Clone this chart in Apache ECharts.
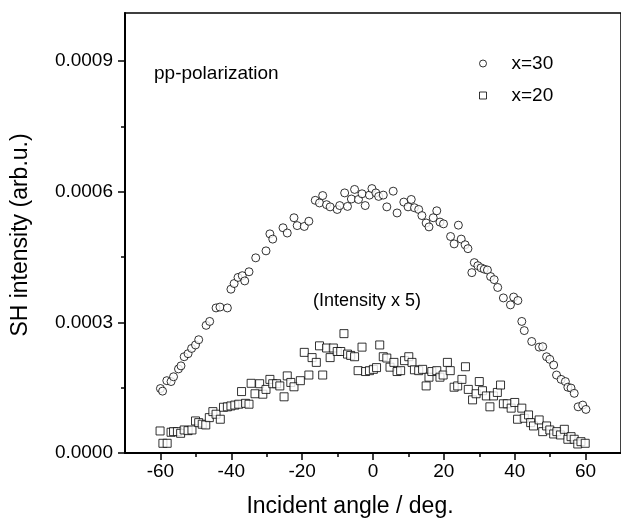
<!DOCTYPE html>
<html>
<head>
<meta charset="utf-8">
<script src="https://cdn.jsdelivr.net/npm/echarts@6/dist/echarts.min.js"></script>
<style>
  html, body { margin: 0; padding: 0; background: #fff; }
  #chart { width: 621px; height: 520px; }
</style>
</head>
<body>
<div id="chart"></div>
<script>
// tick positions
const xTicks = [-60, -40, -20, 0, 20, 40, 60]
const xMinorTicks = [-50, -30, -10, 10, 30, 50]
const yTicks = [0, 0.0003, 0.0006, 0.0009]
const yMinorTicks = [0.00015, 0.00045, 0.00075]

// x=30 (circles)
const angles30 = [-60.0, -59.4, -58.2, -57.0, -56.3, -54.9, -54.2, -53.3, -52.2, -51.2, -50.1, -49.2, -47.1, -46.1, -44.3, -43.2, -41.1, -40.1, -39.2, -38.1, -36.9, -36.2, -35.0, -33.1, -30.2, -29.1, -28.3, -25.4, -24.2, -22.3, -21.4, -19.4, -18.1, -16.3, -15.1, -14.2, -13.1, -12.1, -10.1, -9.4, -8.0, -7.2, -6.1, -5.2, -4.1, -3.1, -2.2, -1.0, -0.3, 0.8, 1.6, 2.9, 3.9, 5.7, 6.8, 8.7, 9.9, 10.8, 11.7, 12.9, 13.8, 15.0, 15.8, 17.0, 18.0, 18.9, 19.9, 21.9, 22.9, 24.1, 24.9, 26.0, 26.8, 27.9, 28.6, 29.6, 30.5, 31.4, 32.3, 33.2, 34.2, 35.2, 36.8, 38.8, 39.7, 40.9, 42.0, 42.7, 44.8, 46.9, 47.9, 49.0, 49.9, 51.0, 51.8, 53.1, 54.3, 55.0, 55.9, 56.8, 57.9, 59.2, 60.1]
const values30 = [0.000148, 0.000142, 0.000166, 0.000164, 0.000175, 0.000193, 0.000200, 0.000221, 0.000228, 0.000240, 0.000248, 0.000260, 0.000293, 0.000302, 0.000333, 0.000335, 0.000333, 0.000376, 0.000389, 0.000403, 0.000407, 0.000395, 0.000416, 0.000448, 0.000464, 0.000503, 0.000491, 0.000517, 0.000505, 0.000540, 0.000522, 0.000520, 0.000532, 0.000580, 0.000574, 0.000591, 0.000570, 0.000565, 0.000559, 0.000568, 0.000597, 0.000566, 0.000583, 0.000605, 0.000582, 0.000595, 0.000568, 0.000592, 0.000607, 0.000597, 0.000589, 0.000592, 0.000565, 0.000601, 0.000551, 0.000576, 0.000565, 0.000582, 0.000563, 0.000559, 0.000545, 0.000528, 0.000519, 0.000540, 0.000556, 0.000530, 0.000526, 0.000497, 0.000480, 0.000523, 0.000491, 0.000478, 0.000469, 0.000414, 0.000437, 0.000430, 0.000425, 0.000422, 0.000420, 0.000405, 0.000398, 0.000380, 0.000356, 0.000340, 0.000358, 0.000350, 0.000302, 0.000281, 0.000256, 0.000243, 0.000244, 0.000221, 0.000215, 0.000202, 0.000179, 0.000169, 0.000164, 0.000151, 0.000149, 0.000137, 0.000106, 0.000110, 0.000100]

// x=20 (squares, intensity x 5)
const angles20 = [-60.1, -59.3, -58.1, -57.0, -56.3, -55.2, -54.3, -53.3, -52.2, -51.1, -50.1, -49.2, -48.2, -47.2, -46.2, -45.2, -44.3, -43.1, -42.2, -41.1, -40.1, -39.0, -37.9, -37.1, -36.0, -35.0, -34.4, -33.3, -32.0, -31.1, -30.2, -29.1, -28.3, -27.2, -26.3, -25.1, -24.2, -23.2, -22.3, -20.5, -19.4, -18.1, -17.2, -16.0, -15.1, -14.2, -13.1, -12.1, -11.2, -10.1, -9.1, -8.2, -7.2, -6.3, -5.2, -4.2, -3.1, -2.1, -1.0, 0.1, 1.0, 1.9, 2.9, 3.9, 4.8, 5.9, 6.8, 7.8, 8.9, 10.1, 11.0, 11.7, 12.9, 14.0, 15.0, 15.8, 16.6, 18.0, 18.9, 19.8, 21.0, 21.8, 22.9, 23.9, 25.1, 26.1, 26.9, 28.1, 29.1, 30.0, 30.9, 32.0, 33.0, 34.0, 35.1, 36.0, 36.8, 37.9, 39.0, 40.0, 40.8, 42.0, 42.7, 43.9, 44.5, 45.3, 46.9, 47.9, 49.0, 49.9, 51.0, 51.9, 52.9, 54.0, 55.0, 55.9, 56.8, 57.8, 58.7, 59.9]
const values20 = [0.0000506, 0.0000223, 0.0000223, 0.0000476, 0.0000490, 0.0000490, 0.0000452, 0.0000529, 0.0000513, 0.0000529, 0.0000736, 0.0000697, 0.0000660, 0.0000644, 0.0000812, 0.0000950, 0.0000890, 0.0000775, 0.000105, 0.000106, 0.000108, 0.000110, 0.000112, 0.000141, 0.000114, 0.000112, 0.000160, 0.000136, 0.000159, 0.000135, 0.000146, 0.000169, 0.000159, 0.000159, 0.000154, 0.000129, 0.000177, 0.000162, 0.000152, 0.000166, 0.000231, 0.000179, 0.000219, 0.000208, 0.000246, 0.000179, 0.000241, 0.000219, 0.000241, 0.000233, 0.000233, 0.000274, 0.000227, 0.000224, 0.000221, 0.000189, 0.000243, 0.000187, 0.000189, 0.000192, 0.000196, 0.000248, 0.000221, 0.000218, 0.000197, 0.000208, 0.000187, 0.000189, 0.000212, 0.000221, 0.000208, 0.000191, 0.000189, 0.000192, 0.000154, 0.000174, 0.000187, 0.000189, 0.000174, 0.000179, 0.000208, 0.000189, 0.000151, 0.000154, 0.000169, 0.000198, 0.000146, 0.000122, 0.000136, 0.000164, 0.000143, 0.000131, 0.000106, 0.000131, 0.000139, 0.000156, 0.000113, 0.000113, 0.000103, 0.000116, 0.0000775, 0.000103, 0.0000798, 0.0000874, 0.0000697, 0.0000621, 0.0000759, 0.0000490, 0.0000621, 0.0000529, 0.0000437, 0.0000490, 0.0000414, 0.0000544, 0.0000315, 0.0000375, 0.0000315, 0.0000207, 0.0000260, 0.0000223]

const FONT = "Liberation Sans, Arial, sans-serif"
const chart = echarts.init(document.getElementById("chart"), null, { renderer: "canvas" })

const markStyle = { color: "#fff", borderColor: "#000", borderWidth: 1 }
const option = {
  animation: false,
  backgroundColor: "#fff",
  textStyle: { fontFamily: FONT },
  grid: { left: 125, top: 13, right: -8, bottom: 67, show: true, borderColor: "#000", borderWidth: 1.5, backgroundColor: "transparent" },
  legend: {
    orient: "vertical",
    left: 479,
    top: 54,
    padding: 0,
    itemWidth: 7,
    itemHeight: 7,
    itemGap: 13,
    data: [
      { name: "x=30", icon: "circle" },
      { name: "x=20", icon: "rect" }
    ],
    itemStyle: { color: "#fff", borderColor: "#000", borderWidth: 1 },
    textStyle: { fontSize: 19, color: "#000", fontFamily: FONT, padding: [0, 0, 0, 20] }
  },
  xAxis: [
    {
      type: "value", min: -70, max: 70, position: "bottom",
      axisLine: { show: true, onZero: false, lineStyle: { color: "#000", width: 2 } },
      axisTick: { show: true, customValues: xTicks, length: 7, lineStyle: { color: "#000", width: 1.5 } },
      axisLabel: { customValues: xTicks, color: "#000", fontSize: 19, margin: 9, fontFamily: FONT },
      splitLine: { show: false }
    },
    {
      type: "value", min: -70, max: 70, position: "bottom",
      axisLine: { show: false, onZero: false },
      axisTick: { show: true, customValues: xMinorTicks, length: 4, lineStyle: { color: "#000", width: 1.5 } },
      axisLabel: { show: false },
      splitLine: { show: false }
    }
  ],
  yAxis: [
    {
      type: "value", min: 0, max: 0.00101, position: "left",
      axisLine: { show: true, onZero: false, lineStyle: { color: "#000", width: 2 } },
      axisTick: { show: true, customValues: yTicks, length: 7, lineStyle: { color: "#000", width: 1.5 } },
      axisLabel: { customValues: yTicks, color: "#000", fontSize: 19, margin: 12, fontFamily: FONT, formatter: v => v.toFixed(4) },
      splitLine: { show: false }
    },
    {
      type: "value", min: 0, max: 0.00101, position: "left",
      axisLine: { show: false, onZero: false },
      axisTick: { show: true, customValues: yMinorTicks, length: 4, lineStyle: { color: "#000", width: 1.5 } },
      axisLabel: { show: false },
      splitLine: { show: false }
    }
  ],
  graphic: [
    { type: "text", left: 154, top: 64, style: { text: "pp-polarization", font: "19px " + FONT, fill: "#000" } },
    { type: "text", left: 313, top: 292, style: { text: "(Intensity x 5)", font: "18px " + FONT, fill: "#000" } },
    { type: "text", x: 350, y: 507, style: { text: "Incident angle / deg.", font: "23px " + FONT, fill: "#000", textAlign: "center", textVerticalAlign: "middle" } },
    { type: "text", x: 21, y: 235, rotation: Math.PI / 2, style: { text: "SH intensity (arb.u.)", font: "23px " + FONT, fill: "#000", textAlign: "center", textVerticalAlign: "middle" } }
  ],
  series: [
    {
      name: "x=30",
      type: "scatter",
      symbol: "circle",
      symbolSize: 8,
      itemStyle: markStyle,
      data: angles30.map((a, i) => [a, values30[i]])
    },
    {
      name: "x=20",
      type: "scatter",
      symbol: "rect",
      symbolSize: 8,
      itemStyle: markStyle,
      data: angles20.map((a, i) => [a, values20[i]])
    }
  ]
}
chart.setOption(option)
</script>
</body>
</html>
